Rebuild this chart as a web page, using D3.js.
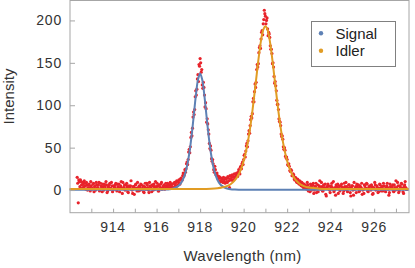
<!DOCTYPE html>
<html><head><meta charset="utf-8">
<script src="https://cdn.jsdelivr.net/npm/d3@7"></script>
<style>html,body{margin:0;padding:0;background:#fff;}svg{display:block;font-family:"Liberation Sans",Arial,sans-serif;}</style>
</head><body><svg id="c" width="415" height="268"></svg>
<script>
const wlStartA = 912.35, wlStartB = 912.375, wlStep = 0.05;
const intensityA = [
15,-15,10,12,6,9,4,8,1,6,3,7,-1,5,2,8,4,0,6,3,9,1,5,-2,4,7,2,6,-1,3,8,2,5,0,4,6,1,7,3,-2,
5,2,9,3,0,6,4,-3,2,5,1,-4,4,2,7,-1,3,5,0,6,2,-2,4,1,8,3,-3,5,2,6,0,4,10,2,5,-1,3,7,1,4,
6,2,5,8,3,6,4,7,3,8,6,9,5,10,8,13,11,17,16,24,25,33,36,48,51,68,73,92,95,117,119,136,148,155,
139,124,127,112,103,80,78,66,49,47,34,31,21,24,19,17,14,15,10,13,9,12,8,13,9,14,3,12,15,11,
16,14,18,17,21,22,27,25,33,36,42,46,55,58,70,76,87,90,108,116,121,142,145,162,170,178,188,196,212,205,
200,190,186,180,166,161,150,134,128,117,101,95,81,76,63,60,48,47,38,36,29,28,22,23,17,18,12,14,9,12,
7,10,5,8,3,6,4,1,6,2,-2,5,3,8,0,4,-3,6,2,11,1,4,-1,3,7,-7,2,5,0,4,8,1,-2,3,6,2,-4,5,1,7,3,-1,4,9,0,2,6,-3,3,5,-6,1,4,7,2,-2,5,3,-5,1,6,2,8,-1,3,5,0,4,-4,2,6,1,3,-2,7,2,4,-1,5,0,3,8,1,-3,4,2,6,-2,3,11,1,5,-1,4,8,2,-4,6,3,1
];
const intensityB = [
8,12,4,10,2,7,11,5,9,0,6,3,10,1,7,-2,5,9,2,6,-1,8,3,7,0,5,10,-3,4,6,1,9,-2,5,3,8,-1,4,7,2,
10,-4,3,6,1,8,-2,5,3,11,0,4,-5,6,2,9,-1,4,7,1,5,-3,8,2,6,0,9,3,-2,5,7,1,4,8,-1,6,3,9,2,5,
1,8,4,6,2,9,5,7,3,9,4,11,6,12,7,14,12,20,18,21,31,30,45,44,62,64,86,89,110,112,131,128,146,150,
142,120,121,98,96,84,71,55,52,37,36,24,28,18,20,13,16,11,14,10,15,9,14,10,16,11,17,13,18,12,
19,15,20,16,24,19,28,31,30,41,39,52,51,66,67,83,85,104,104,125,127,148,149,168,167,186,183,201,208,196,
203,182,184,170,166,149,145,126,123,106,101,84,80,66,64,51,50,40,39,30,31,23,24,17,19,13,15,10,13,8,
11,6,9,4,7,2,5,9,-1,3,7,0,6,-4,4,8,1,-2,5,3,9,-1,6,2,-5,4,7,1,-3,5,3,10,0,-6,4,7,2,-1,5,3,-4,8,1,4,-2,6,3,-7,5,0,9,2,-3,4,6,-1,3,8,0,-4,5,2,7,-2,4,1,6,-5,3,9,0,5,-3,2,6,-1,4,8,1,-2,5,3,-6,7,2,4,-1,6,0,3,9,-3,5,2,7,-2,4,10,1
];
// Fitted curves (sampled)
const signalFitX = [912.0,914.0,916.0,916.4,916.6,916.8,917.0,917.1,917.2,917.3,917.4,917.5,917.6,917.7,917.8,917.9,918.0,918.1,918.2,918.3,918.4,918.5,918.6,918.7,918.8,918.9,919.0,919.2,919.4,919.6,920.0,922.0,927.6];
const signalFitY = [0.3,0.3,0.3,0.6,1.0,2.1,4.9,7.6,11.9,18.5,28.4,42.8,62.1,85.8,110.4,129.8,137.3,129.8,110.4,85.8,62.1,42.8,28.4,18.5,11.9,7.6,4.9,2.1,1.0,0.6,0.3,0.3,0.3];
const idlerFitX = [912.0,916.0,917.5,918.0,918.5,918.8,919.0,919.2,919.4,919.6,919.8,919.9,920.0,920.1,920.2,920.3,920.4,920.5,920.6,920.7,920.8,920.9,921.0,921.1,921.2,921.3,921.4,921.5,921.6,921.7,921.8,921.9,922.0,922.1,922.2,922.4,922.6,922.8,923.0,923.5,924.0,927.6];
const idlerFitY = [1.2,1.2,1.3,1.3,1.6,2.1,2.9,4.3,6.9,11.6,19.9,26.2,34.2,44.7,57.7,73.7,92.6,113.9,136.2,157.9,176.4,188.8,193.2,188.8,176.4,157.9,136.2,113.9,92.6,73.7,57.7,44.7,34.2,26.2,19.9,11.6,6.9,4.3,2.9,1.6,1.3,1.2];
const xTickLabels = [914,916,918,920,922,924,926];
const yTickLabels = [0,50,100,150,200];
const legendLabels = ["Signal","Idler"];

const colors = {signal:"#5e81b5", idler:"#e19c24", data:"#e8232b", frame:"#a6a6a6"};
const svg = d3.select("#c");
const L=70, R=409, T=0.5, B=212.7;
const x = d3.scaleLinear().domain([912.02,927.6]).range([L,R]);
const y = d3.scaleLinear().domain([-26.7,223.5]).range([B,T]);

const pts = intensityA.map((v,i)=>({w: wlStartA + i*wlStep, v}))
  .concat(intensityB.map((v,i)=>({w: wlStartB + i*wlStep, v})));
const gPlot = svg.append("g");
gPlot.selectAll("circle.d").data(pts).join("circle")
  .attr("cx",d=>x(d.w)).attr("cy",d=>y(d.v)).attr("r",1.6).attr("fill",colors.data);

const line = d3.line().x(d=>x(d[0])).y(d=>y(d[1])).curve(d3.curveCatmullRom.alpha(0.5));
gPlot.append("path").datum(signalFitX.map((w,i)=>[w,signalFitY[i]]))
  .attr("d",line).attr("fill","none").attr("stroke",colors.signal).attr("stroke-width",2);
gPlot.append("path").datum(idlerFitX.map((w,i)=>[w,idlerFitY[i]]))
  .attr("d",line).attr("fill","none").attr("stroke",colors.idler).attr("stroke-width",2);

// frame
svg.append("rect").attr("x",L).attr("y",T).attr("width",R-L).attr("height",B-T)
  .attr("fill","none").attr("stroke",colors.frame).attr("stroke-width",1);

// x axis ticks (inside)
const gx = svg.append("g").attr("transform",`translate(0,${B})`);
gx.call(d3.axisBottom(x).tickValues(d3.range(913,928,1)).tickSize(-4).tickFormat(""));
gx.call(g=>{g.select(".domain").remove(); g.selectAll("line").attr("stroke",colors.frame);});
gx.selectAll("text.lab").data(xTickLabels).join("text").attr("class","lab")
  .attr("x",d=>x(d)).attr("y",19).attr("text-anchor","middle")
  .attr("font-size",14).attr("letter-spacing",0.8).attr("fill","#333").text(d=>d);

// y axis ticks
const gy = svg.append("g").attr("transform",`translate(${L},0)`);
gy.call(d3.axisLeft(y).tickValues(d3.range(-20,230,10).filter(v=>v%50!==0)).tickSize(-2.7).tickFormat(""));
gy.call(d3.axisLeft(y).tickValues(yTickLabels).tickSize(-5).tickFormat(""));
gy.call(g=>{g.selectAll(".domain").remove(); g.selectAll("line").attr("stroke",colors.frame);});
gy.selectAll("text.lab").data(yTickLabels).join("text").attr("class","lab")
  .attr("x",-8).attr("y",d=>y(d)).attr("dy","0.36em").attr("text-anchor","end")
  .attr("font-size",14).attr("letter-spacing",0.8).attr("fill","#333").text(d=>d);

svg.append("text").attr("x",242.5).attr("y",261).attr("text-anchor","middle")
  .attr("font-size",15).attr("letter-spacing",0.3).attr("fill","#333").text("Wavelength (nm)");
svg.append("text").attr("transform","translate(14,96.5) rotate(-90)").attr("text-anchor","middle")
  .attr("font-size",15).attr("fill","#333").text("Intensity");

// legend
const lg = svg.append("g");
lg.append("rect").attr("x",311.5).attr("y",21.5).attr("width",84).attr("height",45)
  .attr("fill","#fff").attr("stroke","#808080").attr("stroke-width",1);
const lc = [colors.signal, colors.idler];
lg.selectAll("circle").data(legendLabels).join("circle")
  .attr("cx",321).attr("cy",(d,i)=>33.3+i*17.4).attr("r",2.2).attr("fill",(d,i)=>lc[i]);
lg.selectAll("text").data(legendLabels).join("text")
  .attr("x",335.5).attr("y",(d,i)=>38.8+i*17.4).attr("font-size",15).attr("fill","#222").text(d=>d);
</script></body></html>
